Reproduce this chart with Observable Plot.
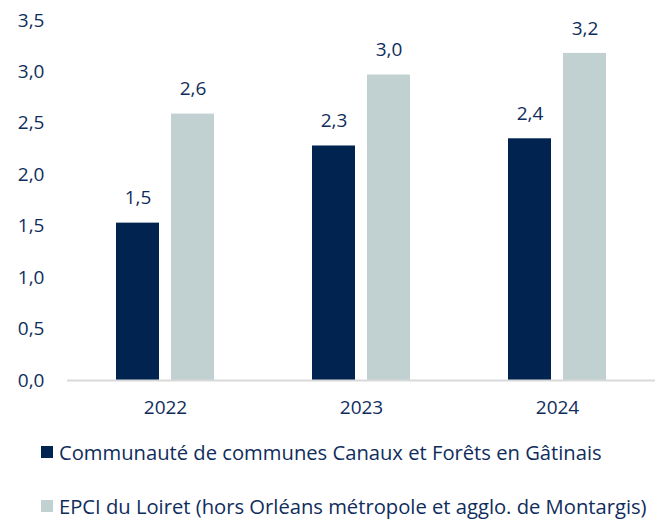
<!DOCTYPE html>
<html><head><meta charset="utf-8">
<script src="https://cdn.jsdelivr.net/npm/d3@7"></script>
<script src="https://cdn.jsdelivr.net/npm/@observablehq/plot@0.6"></script>
<style>
html,body{margin:0;padding:0;background:#fff;overflow:hidden}
body{font-family:"Open Sans",sans-serif;color:#0f2d5c;width:660px;height:519px}
#legend{margin-top:14px;padding-left:41px}
.item{display:flex;align-items:center;height:26px;font-size:20.2px;white-space:nowrap}
.item + .item{margin-top:28px}
.sw{width:12px;height:12px;margin-right:6px;flex:none}
</style></head><body>
<div id="chart"></div>
<div id="legend"></div>
<script>
const years = ["2022", "2023", "2024"];
const seriesNames = [
  "Communauté de communes Canaux et Forêts en Gâtinais",
  "EPCI du Loiret (hors Orléans métropole et agglo. de Montargis)"
];
const ccValues = [1.53, 2.28, 2.35];
const epciValues = [2.59, 2.97, 3.18];
const yTicks = [0, 0.5, 1, 1.5, 2, 2.5, 3, 3.5];
const colors = ["#00234f", "#c1d0d0"];
const textColor = "#0f2d5c";

const fmt = v => v.toFixed(1).replace(".", ",");
const rows = years.flatMap((y, i) => [
  {year: y, series: seriesNames[0], value: ccValues[i]},
  {year: y, series: seriesNames[1], value: epciValues[i]}
]);

const chart = Plot.plot({
  width: 660, height: 425,
  marginLeft: 66, marginRight: 4, marginTop: 20, marginBottom: 45,
  style: {fontFamily: "Open Sans", fontSize: "19px", color: textColor, background: "white"},
  fx: {domain: years, padding: 0, label: null, tickSize: 0, tickPadding: 20},
  x: {domain: seriesNames, paddingInner: 0.214, paddingOuter: 0.875, axis: null},
  y: {domain: [0, 3.5], ticks: yTicks, tickFormat: fmt, label: null, tickSize: 0, tickPadding: 23},
  color: {domain: seriesNames, range: colors},
  marks: [
    Plot.barY(rows, {fx: "year", x: "series", y: "value", fill: "series"}),
    Plot.ruleY([0], {stroke: "#d9d9d9", strokeWidth: 2}),
    Plot.text(rows, {fx: "year", x: "series", y: "value", text: d => fmt(d.value), dy: -25, fill: textColor, fontSize: 19})
  ]
});
document.getElementById("chart").append(chart);

const legend = document.getElementById("legend");
seriesNames.forEach((name, i) => {
  const item = document.createElement("div");
  item.className = "item";
  const sw = document.createElement("span");
  sw.className = "sw";
  sw.style.background = colors[i];
  const label = document.createElement("span");
  label.textContent = name;
  item.append(sw, label);
  legend.append(item);
});
</script>
</body></html>
